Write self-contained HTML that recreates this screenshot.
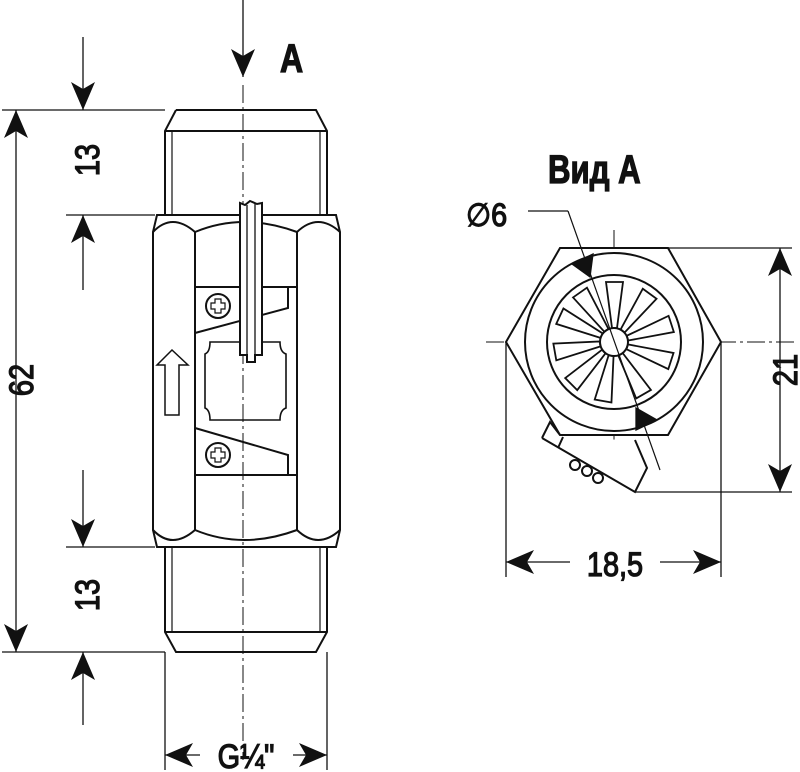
<!DOCTYPE html>
<html><head><meta charset="utf-8"><style>
html,body{margin:0;padding:0;background:#fff}
svg{display:block}
text{font-family:"Liberation Sans",sans-serif;fill:#111}
</style></head><body>
<svg width="800" height="772" viewBox="0 0 800 772" xmlns="http://www.w3.org/2000/svg">
<defs>
<marker id="ah" viewBox="0 0 28 24" refX="28" refY="12" markerWidth="28" markerHeight="24" markerUnits="userSpaceOnUse" orient="auto">
<path d="M0,0 L28,12 L0,24 L7,12 Z" fill="#111"/></marker>
</defs>
<g stroke="#111" fill="none" stroke-width="1.3">
<line x1="243" y1="85" x2="243" y2="760" stroke-dasharray="18,4,3,4" stroke-width="1"/>
<line x1="243" y1="0" x2="243" y2="77" marker-end="url(#ah)"/>
<line x1="2" y1="110" x2="165" y2="110"/>
<line x1="2" y1="652" x2="165" y2="652"/>
<line x1="66" y1="215" x2="155" y2="215"/>
<line x1="66" y1="547" x2="155" y2="547"/>
<line x1="16" y1="380" x2="16" y2="110" marker-end="url(#ah)"/>
<line x1="16" y1="380" x2="16" y2="652" marker-end="url(#ah)"/>
<line x1="83" y1="37" x2="83" y2="110" marker-end="url(#ah)"/>
<line x1="83" y1="290" x2="83" y2="215" marker-end="url(#ah)"/>
<line x1="83" y1="470" x2="83" y2="547" marker-end="url(#ah)"/>
<line x1="83" y1="725" x2="83" y2="652" marker-end="url(#ah)"/>
<line x1="165" y1="652" x2="165" y2="770"/>
<line x1="327" y1="652" x2="327" y2="770"/>
<line x1="200" y1="755" x2="165" y2="755" marker-end="url(#ah)"/>
<line x1="293" y1="755" x2="327" y2="755" marker-end="url(#ah)"/>
<g stroke-width="2">
<path d="M176,110 L316,110 L327,131 L327,215 M176,110 L165,131 L165,215 M165,131 L327,131"/>
<line x1="172" y1="131" x2="172" y2="215" stroke-width="1.2"/>
<line x1="320" y1="131" x2="320" y2="215" stroke-width="1.2"/>
<path d="M165,547 L165,632 L176,652 L316,652 L327,632 L327,547 M165,632 L327,632"/>
<line x1="172" y1="547" x2="172" y2="632" stroke-width="1.2"/>
<line x1="320" y1="547" x2="320" y2="632" stroke-width="1.2"/>
<path d="M157,215 L336,215 L340,232 L340,530 L336,547 L157,547 L153,530 L153,232 Z"/>
<line x1="195" y1="232" x2="195" y2="530"/>
<line x1="297" y1="232" x2="297" y2="530"/>
<path d="M153,232 Q172,212 195,232 Q243,212 297,232 Q318,212 340,232"/>
<path d="M153,530 Q172,550 195,530 Q243,550 297,530 Q318,550 340,530"/>
<path d="M195,287 L297,287 M195,475 L297,475"/>
<path d="M195,333 L288,308 L288,287"/>
<path d="M195,428 L288,455 L288,475"/>
<path d="M210,342 L280,342 Q280,352 286,354 L286,408 Q280,410 280,420 L210,420 Q210,410 205,408 L205,354 Q210,352 210,342 Z" stroke-width="1.6"/>
<circle cx="218" cy="306" r="12"/>
<circle cx="218" cy="455" r="12"/>
<path d="M215,299 h6 v4 h4 v6 h-4 v4 h-6 v-4 h-4 v-6 h4 Z" stroke-width="1.2"/>
<path d="M215,448 h6 v4 h4 v6 h-4 v4 h-6 v-4 h-4 v-6 h4 Z" stroke-width="1.2"/>
<path d="M240,203 L240,355 L247,355 L247,362 L255,362 L255,355 L262,355 L262,203 L257,204 L250,201 L245,205 Z" fill="#fff"/>
<line x1="247" y1="205" x2="247" y2="355" stroke-width="1.3"/>
<line x1="255" y1="204" x2="255" y2="355" stroke-width="1.3"/>
<path d="M165,415 L179,415 L179,365 L188,365 L172,350 L157,365 L165,365 Z" stroke-width="1.5"/>
</g>
<line x1="486" y1="342" x2="795" y2="342" stroke-dasharray="18,4,3,4" stroke-width="1"/>
<line x1="614" y1="230" x2="614" y2="470" stroke-dasharray="18,4,3,4" stroke-width="1"/>
<line x1="668" y1="248" x2="792" y2="248"/>
<line x1="635" y1="492" x2="792" y2="492"/>
<line x1="780" y1="370" x2="780" y2="248" marker-end="url(#ah)"/>
<line x1="780" y1="370" x2="780" y2="492" marker-end="url(#ah)"/>
<line x1="506" y1="342" x2="506" y2="577"/>
<line x1="721" y1="342" x2="721" y2="577"/>
<line x1="570" y1="562" x2="506" y2="562" marker-end="url(#ah)"/>
<line x1="660" y1="562" x2="721" y2="562" marker-end="url(#ah)"/>
<g stroke-width="2">
<path d="M560,248 L668,248 L721,342 L668,435 L560,435 L506,342 Z" fill="#fff"/>
<path d="M542,438 L550,422 L560,435 M542,438 L635,492 L647,468 L635,440" fill="#fff"/>
<line x1="558" y1="448" x2="563" y2="437"/>
<circle cx="614" cy="342" r="89"/>
<circle cx="614" cy="342" r="67"/>
<circle cx="614" cy="342" r="14"/>
<g stroke-width="1.8">
<path d="M606,282 L623,282 L617,328 L612,328 Z"/>
<path d="M606,282 L623,282 L617,328 L612,328 Z" transform="rotate(36 614 342)"/>
<path d="M606,282 L623,282 L617,328 L612,328 Z" transform="rotate(72 614 342)"/>
<path d="M606,282 L623,282 L617,328 L612,328 Z" transform="rotate(108 614 342)"/>
<path d="M606,282 L623,282 L617,328 L612,328 Z" transform="rotate(150 614 342)"/>
<path d="M606,282 L623,282 L617,328 L612,328 Z" transform="rotate(190 614 342)"/>
<path d="M606,282 L623,282 L617,328 L612,328 Z" transform="rotate(225 614 342)"/>
<path d="M606,282 L623,282 L617,328 L612,328 Z" transform="rotate(260 614 342)"/>
<path d="M606,282 L623,282 L617,328 L612,328 Z" transform="rotate(295 614 342)"/>
<path d="M606,282 L623,282 L617,328 L612,328 Z" transform="rotate(325 614 342)"/>
</g>
<circle cx="575" cy="465" r="5"/>
<circle cx="587" cy="471" r="5"/>
<circle cx="598" cy="478" r="5"/>
</g>
<line x1="528" y1="211" x2="568" y2="211" stroke="#111" stroke-width="1.2"/>
<line x1="568" y1="211" x2="660" y2="470" stroke="#111" stroke-width="1.2"/>
<path d="M572,264 L593,254 L590,277 Z" fill="#111"/>
<path d="M636,430 L657,420 L636,408 Z" fill="#111"/>
<text x="0" y="0" font-size="40" font-weight="bold" transform="translate(280 72) scale(0.8 1)">A</text>
<text x="0" y="0" font-size="40" font-weight="bold" transform="translate(548 183) scale(0.78 1)">Вид А</text>
<text x="0" y="0" font-size="32" transform="translate(466 226) scale(0.9 1)">∅6</text>
<text x="0" y="0" font-size="34" transform="translate(99 160) rotate(-90) scale(0.85 1)" text-anchor="middle">13</text>
<text x="0" y="0" font-size="34" transform="translate(99 595) rotate(-90) scale(0.85 1)" text-anchor="middle">13</text>
<text x="0" y="0" font-size="34" transform="translate(33 380) rotate(-90) scale(0.85 1)" text-anchor="middle">62</text>
<text x="0" y="0" font-size="34" transform="translate(797 370) rotate(-90) scale(0.85 1)" text-anchor="middle">21</text>
<text x="0" y="0" font-size="34" transform="translate(615 576) scale(0.85 1)" text-anchor="middle">18,5</text>
<text x="0" y="0" font-size="34" transform="translate(246 768) scale(0.85 1)" text-anchor="middle">G¼"</text>
</svg>
</body></html>
